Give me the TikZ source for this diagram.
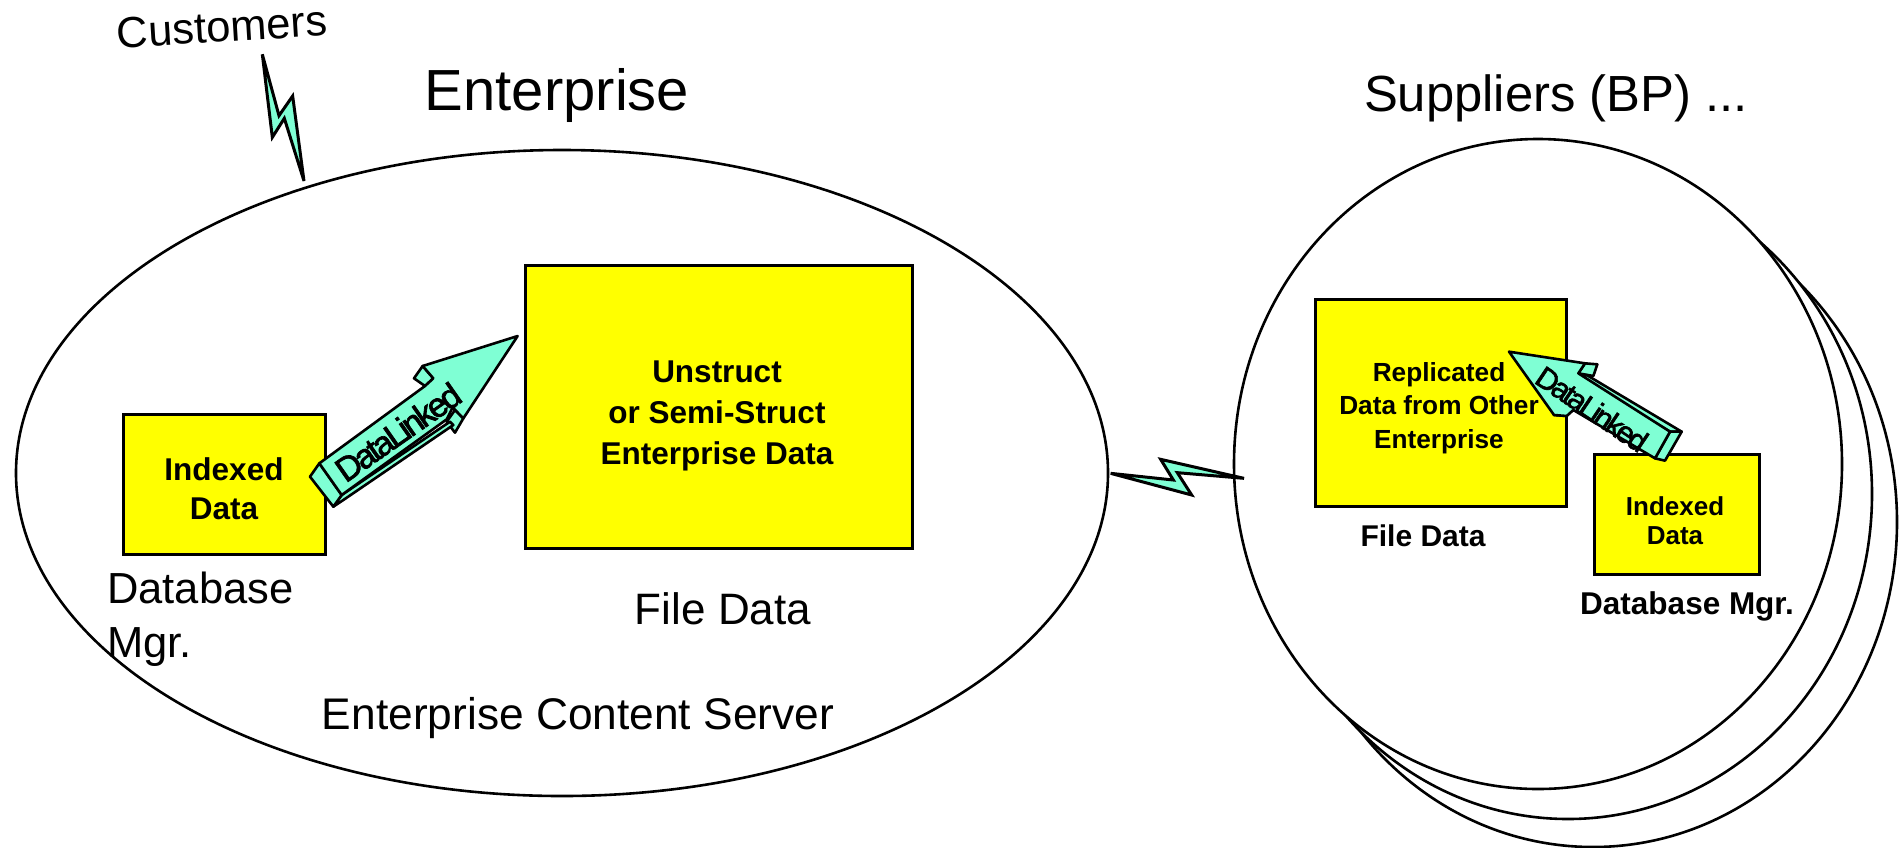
\documentclass[tikz,border=0pt]{standalone}
\usepackage{fontspec}
\setmainfont{Liberation Sans}
\newfontfamily\linkfont[LetterSpace=-9,FakeBold=2]{Liberation Sans}
\definecolor{aqua}{HTML}{7FFFD4}
\definecolor{boxy}{HTML}{FFFF00}
\newcommand{\fs}[2]{\fontsize{#1}{#2}\selectfont}
\tikzset{
  x=1pt,y=-1pt,
  outl/.style={draw=black,line width=2.6pt,line join=round},
  bolt/.style={outl,fill=aqua,line width=3pt,line join=miter},
  arr/.style={outl,fill=aqua},
  box/.style={draw=black,fill=boxy,line width=2.6pt,inner sep=0pt,anchor=north west},
  lbl/.style={inner sep=0pt,text=black,align=center},
}
\begin{document}
\begin{tikzpicture}
\useasboundingbox (0,0) rectangle (1902,847);
% supplier circles
\draw[outl,fill=white] (1593,522) ellipse [x radius=304pt,y radius=325pt];
\draw[outl,fill=white] (1568,494) ellipse [x radius=304pt,y radius=325pt];
\draw[outl,fill=white] (1538,464) ellipse [x radius=304pt,y radius=325pt];
% enterprise ellipse
\draw[outl] (562,473) ellipse [x radius=546pt,y radius=323pt];
% boxes
\node[box,minimum width=202pt,minimum height=140pt] (idxL) at (122,413) {};
\node[box,minimum width=387pt,minimum height=283pt] (fileL) at (524,264) {};
\node[box,minimum width=251pt,minimum height=207pt] (fileR) at (1314,298) {};
\node[box,minimum width=165pt,minimum height=120pt] (idxR) at (1593,453) {};
% bolts
\begin{scope}[shift={(90,0)},x=1pt/3,y=-1pt/3]
\draw[bolt] (517,163)--(567,347)--(608,288)--(642,543)--(583,355)--(547,412)--cycle;
\end{scope}
\begin{scope}[shift={(1090,440)},x=1pt/3,y=-1pt/3]
\draw[bolt] (62,100)--(250,120)--(212,58)--(462,115)--(262,98)--(305,165)--cycle;
\end{scope}
% arrow 1
\begin{scope}[shift={(290,310)},x=1pt/3,y=-1pt/3]
\draw[arr] (398,168)--(430,205)--(405,228)--(372,205)--cycle;
\draw[arr] (495,300)--(520,325)--(495,368)--(470,335)--cycle;
\draw[arr] (155,555)--(480,335)--(490,345)--(160,570)--(130,590)--cycle;
\draw[arr] (88,460)--(60,500)--(130,590)--(155,555)--cycle;
\draw[arr] (88,460)--(405,228)--(430,205)--(398,168)--(683,78)--(520,325)--(488,292)--(470,328)--(155,555)--cycle;
\end{scope}
% arrow 2
\begin{scope}[shift={(1440,330)},x=1pt/3,y=-1pt/3]
\draw[arr] (435,100)--(472,103)--(460,138)--(415,130)--cycle;
\draw[arr] (342,255)--(380,258)--(400,235)--(350,215)--cycle;
\draw[arr] (440,135)--(725,305)--(690,305)--(425,145)--cycle;
\draw[arr] (690,305)--(725,305)--(675,392)--(645,385)--cycle;
\draw[arr] (207,65)--(435,100)--(415,130)--(690,305)--(645,385)--(400,240)--(380,258)--(342,255)--cycle;
\end{scope}
% labels
\node[lbl,rotate=3.5,font=\fs{43.5}{50}] (cust) at (222,27) {Customers};
\node[lbl,font=\fs{58}{60}] (ent) at (557,95) {Enterprise};
\node[lbl,font=\fs{50.8}{55}] (sup) at (1556,98) {Suppliers (BP) ...};
\node[lbl,align=left,anchor=west,font=\fs{43.5}{54}] (dbm) at (107,619) {Database\\Mgr.};
\node[lbl,font=\fs{44}{50}] (fdL) at (723,609) {File Data};
\node[lbl,font=\fs{44.3}{50}] (ecs) at (578,718) {Enterprise Content Server};
\node[lbl,font=\bfseries\fs{31.5}{41}] (t1) at (717,416) {Unstruct\\or Semi-Struct\\Enterprise Data};
\node[lbl,font=\bfseries\fs{31.5}{39}] (t2) at (224,489) {Indexed\\Data};
\node[lbl,font=\bfseries\fs{26.2}{33.5}] (t3) at (1439,408) {Replicated\\Data from Other\\Enterprise};
\node[lbl,font=\bfseries\fs{30}{34}] (t4) at (1423,536) {File Data};
\node[lbl,font=\bfseries\fs{26}{29}] (t5) at (1675,521) {Indexed\\Data};
\node[lbl,font=\bfseries\fs{31.5}{34}] (t6) at (1687,606) {Database Mgr.};
\node[lbl,rotate=35,font=\linkfont\fs{34}{40}] (t7) at (398,432) {DataLinked};
\node[lbl,rotate=-34,font=\linkfont\fs{30}{34}] (t8) at (1592,409) {DataLinked};
\end{tikzpicture}
\end{document}
